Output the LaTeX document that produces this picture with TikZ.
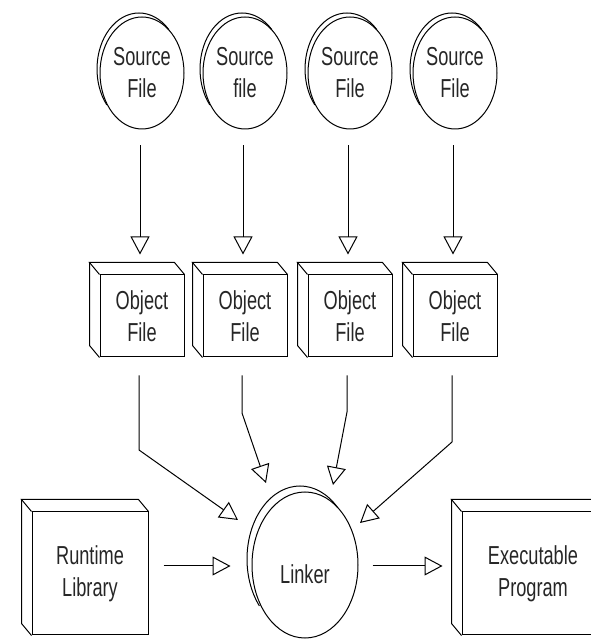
\documentclass[tikz,border=0pt]{standalone}
\usepackage{fontspec}
\setmainfont{Liberation Sans}[FakeStretch=0.70]
\usetikzlibrary{calc, shapes.geometric, arrows.meta}

\begin{document}
\begin{tikzpicture}[x=1pt, y=1pt, line width=1pt,
    >={Triangle[open, length=18pt, width=19pt]},
    nhan/.style={font=\fontsize{26}{32}\selectfont, align=center, inner sep=0pt, text=black!85},
    tep/.style={nhan, ellipse, draw, minimum width=84pt, minimum height=112pt},
    hop/.style={nhan, rectangle, draw, minimum width=84pt, minimum height=82pt}]
    % Khung hình
    \useasboundingbox (0,0) rectangle (591,640);
    \clip (0,0) rectangle (591,640);

    % --- Hàng trên: các tệp nguồn và tệp đối tượng ---
    \node[tep] (src1) at (142,567) {Source\\File};
    \node[tep] (src2) at (245,567) {Source\\file};
    \node[tep] (src3) at (350,567) {Source\\File};
    \node[tep] (src4) at (455,567) {Source\\File};
    \foreach \i/\x in {1/142, 2/245, 3/350, 4/455}
        \node[hop] (obj\i) at (\x,324) {Object\\File};

    % --- Hàng dưới: thư viện, trình liên kết, chương trình ---
    \node[hop, minimum width=116pt, minimum height=123pt] (runtime) at (90,66.5) {Runtime\\Library};
    \node[tep, minimum width=106pt, minimum height=146pt] (linker) at (305,75) {Linker\rule{0pt}{37pt}};
    \node[hop, minimum width=142pt, minimum height=123pt] (exec) at (533,66.5) {Executable\\Program};

    % Viền đôi phía trên bên trái của các hình elip
    \foreach \n/\rx/\ry/\dx/\dy in {src1/42/56/-3/4, src2/42/56/-3/4, src3/42/56/-3/4,
                                  src4/42/56/-3/4, linker/53/73/-5/6}
        \draw ($(\n.center)+(\dx,\dy)$) ++(45:\rx pt and \ry pt)
            arc[start angle=45, end angle=220, x radius=\rx, y radius=\ry];

    % Mặt bên và mặt trên của các hộp
    \foreach \n in {obj1, obj2, obj3, obj4, runtime, exec} {
        \draw (\n.north west) -- ++(-10,12) -- ($(\n.north east)+(-10,12)$) -- (\n.north east);
        \draw ($(\n.north west)+(-10,12)$) -- ($(\n.south west)+(-10,12)$) -- (\n.south west);
    }

    % --- Mũi tên ---
    \foreach \i in {1,...,4}
        \draw[->] ([xshift=-2pt, yshift=-16pt]src\i.south) -- ([xshift=-2pt, yshift=20pt]obj\i.north);
    \foreach \i/\b/\dx/\dy in {1/190/-67/45, 2/227/-39/82, 3/228/28/80, 4/198/55/42}
        \draw[->] ([xshift=-3pt, yshift=-18pt]obj\i.south) -- ([xshift=-3pt]obj\i.south |- 0,\b)
            -- ($(linker.center)+(\dx,\dy)$);
    \draw[->] ([shift={(15pt,7.5pt)}]runtime.east) -- ([shift={(-21pt,-1pt)}]linker.west);
    \draw[->] ([shift={(14pt,-1pt)}]linker.east) -- ([shift={(-19pt,7.5pt)}]exec.west);
\end{tikzpicture}
\end{document}
